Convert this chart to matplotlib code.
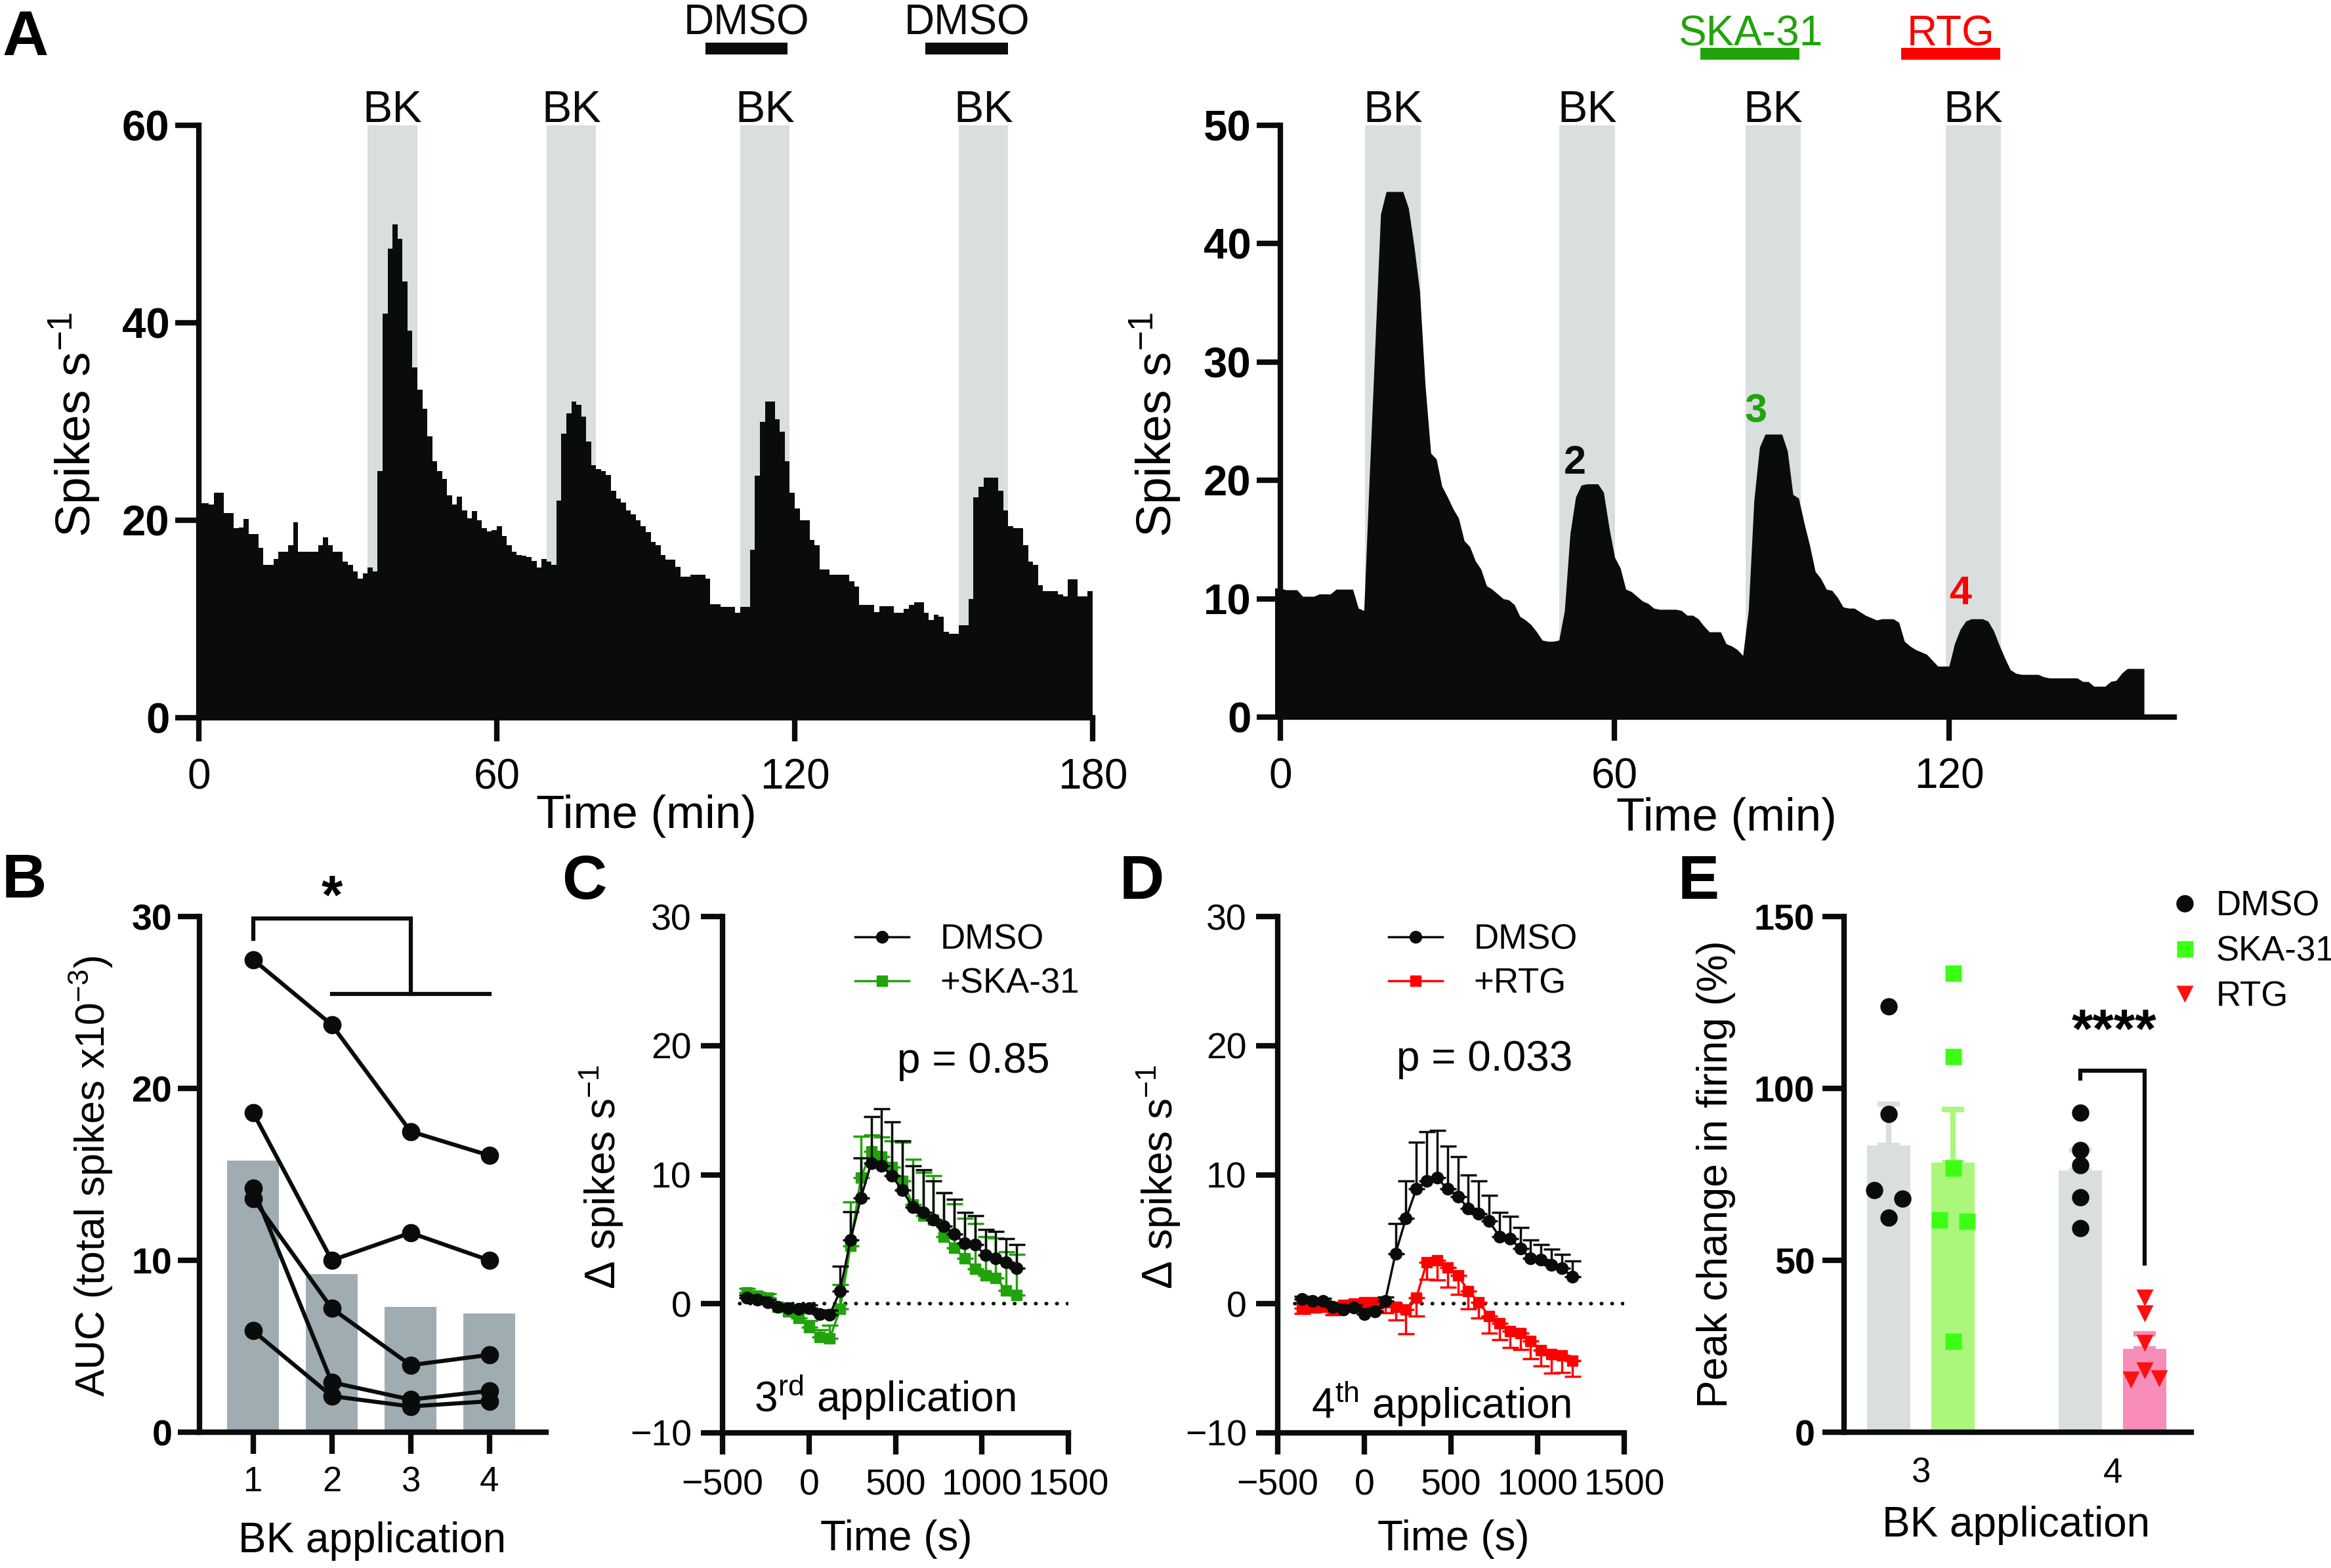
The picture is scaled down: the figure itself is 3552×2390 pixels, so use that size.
import numpy as np
import matplotlib
matplotlib.use('Agg')
import matplotlib.pyplot as plt
from matplotlib import font_manager
from matplotlib.lines import Line2D

# ---------------- fonts ----------------
_names = {f.name for f in font_manager.fontManager.ttflist}
SANS = 'Liberation Sans' if 'Liberation Sans' in _names else 'DejaVu Sans'
NARROW = 'Liberation Sans Narrow' if 'Liberation Sans Narrow' in _names else SANS
plt.rcParams['font.family'] = [SANS, 'DejaVu Sans']
plt.rcParams['mathtext.fontset'] = 'custom'
plt.rcParams['mathtext.rm'] = SANS
plt.rcParams['mathtext.default'] = 'regular'

# ---------------- data ----------------
# panel A left: firing rate, 1-min bins from 0 to 180 min
rate_left = [
    21.7, 21.7, 21.6, 22.8, 22.8, 20.7, 20.7, 19.2, 19.3, 20.1,
    18.6, 18.6, 17.2, 15.5, 15.5, 16.1, 16.8, 16.8, 17.5, 19.8,
    16.8, 16.8, 16.8, 16.8, 17.5, 18.3, 17.5, 16.8, 16.8, 15.8,
    15.5, 14.8, 14.1, 14.6, 15.2, 14.8, 25.0, 40.9, 47.5, 50.0,
    48.5, 44.2, 39.2, 35.5, 33.2, 31.3, 28.5, 26.0, 25.0, 24.2,
    22.5, 21.6, 22.4, 21.0, 20.2, 20.9, 20.0, 19.2, 18.9, 19.0,
    19.4, 18.4, 17.5, 16.8, 16.5, 16.4, 16.3, 15.9, 15.2, 16.1,
    15.8, 15.5, 22.0, 28.8, 30.8, 32.0, 31.7, 30.5, 28.0, 25.6,
    25.2, 25.0, 24.6, 23.0, 22.2, 21.8, 21.0, 20.6, 20.0, 19.4,
    18.8, 17.8, 17.5, 16.5, 16.0, 16.0, 15.3, 14.3, 14.3, 14.5,
    14.5, 14.5, 14.1, 11.5, 11.5, 11.2, 11.2, 11.2, 10.6, 11.2,
    11.2, 17.0, 24.5, 30.0, 32.0, 32.0, 30.2, 29.0, 26.0, 22.8,
    21.2, 20.0, 20.0, 18.0, 17.5, 15.0, 15.0, 14.5, 14.5, 14.5,
    14.5, 13.8, 13.3, 11.4, 11.4, 11.4, 10.7, 11.3, 11.3, 11.3,
    10.6, 10.6, 11.0, 11.4, 11.7, 11.7, 10.6, 9.9, 10.4, 10.2,
    8.7, 8.5, 8.5, 9.4, 9.4, 12.0, 22.3, 23.4, 24.3, 24.3,
    24.3, 23.0, 21.0, 19.4, 19.2, 19.2, 17.5, 15.8, 15.5, 13.4,
    12.8, 12.8, 12.8, 12.5, 12.3, 14.0, 14.0, 12.3, 12.3, 12.8,
]
# panel A right: firing rate sampled each minute from -1 to 155 min
rate_right = [
    10.9,
    10.9, 10.75, 10.75, 10.75, 10.2, 10.2, 10.2, 10.4, 10.4, 10.4,
    10.8, 10.8, 10.8, 10.8, 9.2, 9.0, 20.5, 31.5, 42.5, 44.4,
    44.4, 44.4, 44.4, 43.0, 39.8, 36.0, 28.0, 22.3, 21.8, 19.5,
    18.6, 17.6, 16.8, 14.9, 14.4, 13.2, 12.5, 11.1, 10.8, 10.4,
    10.0, 9.9, 9.5, 8.5, 8.2, 7.8, 7.2, 6.5, 6.4, 6.4,
    6.5, 9.0, 15.5, 18.6, 19.6, 19.7, 19.7, 19.7, 19.0, 16.0,
    13.5, 12.6, 10.8, 10.6, 10.2, 9.8, 9.6, 9.2, 9.1, 9.1,
    9.1, 9.1, 9.0, 8.6, 8.6, 8.3, 7.7, 7.2, 7.2, 7.2,
    6.2, 6.0, 5.7, 5.2, 9.0, 18.3, 22.8, 23.9, 23.9, 23.9,
    23.9, 22.5, 18.8, 18.5, 16.4, 14.5, 12.3, 11.7, 10.8, 10.7,
    10.1, 9.3, 9.2, 9.2, 8.9, 8.6, 8.4, 8.2, 8.3, 8.3,
    8.3, 8.0, 6.4, 6.0, 5.7, 5.5, 5.3, 4.8, 4.3, 4.3,
    4.3, 6.2, 7.4, 8.1, 8.3, 8.3, 8.3, 8.1, 7.3, 6.1,
    5.0, 4.0, 3.7, 3.6, 3.6, 3.6, 3.6, 3.4, 3.3, 3.3,
    3.3, 3.3, 3.3, 3.3, 3.0, 3.0, 2.6, 2.6, 2.6, 3.0,
    3.1, 3.7, 4.1, 4.1, 4.1, 4.1,
]
bk_left = [(34, 44), (70, 80), (109, 119), (153, 163)]
dmso_left = [(102, 118.5), (146.3, 163)]
bk_right = [(15.2, 25.2), (50.1, 60.1), (83.5, 93.4), (119.4, 129.3)]
ska_right = (75.4, 93.2)
rtg_right = (111.4, 129.2)

# panel B: AUC per BK application
bk_apps = [1, 2, 3, 4]
auc_mean = [15.8, 9.2, 7.3, 6.9]
auc_cells = [
    [27.5, 23.7, 17.5, 16.1],
    [18.6, 10.0, 11.6, 10.0],
    [14.2, 2.9, 1.9, 2.4],
    [13.6, 7.2, 3.9, 4.5],
    [5.9, 2.1, 1.5, 1.8],
]

# panels C and D: time course (s)
t_s = [-360, -300, -240, -180, -120, -60, 0, 60, 120, 180, 240, 300, 360, 420,
       480, 540, 600, 660, 720, 780, 840, 900, 960, 1020, 1080, 1140, 1200]
c_dmso = [0.46, 0.3, 0.1, -0.25, -0.35, -0.4, -0.35, -0.8, -0.85, 1.0, 4.95, 8.2, 10.9,
          10.7, 9.9, 8.8, 7.5, 7.1, 6.5, 6.0, 5.4, 4.7, 4.6, 3.75, 3.5, 3.2, 2.75]
c_dmso_sem = [0.2, 0.2, 0.2, 0.2, 0.2, 0.2, 0.25, 0.3, 0.35, 1.9, 2.2, 3.1, 3.6, 4.4,
              4.2, 3.8, 3.2, 3.3, 3.0, 2.6, 2.7, 2.4, 2.2, 2.0, 2.1, 1.85, 1.85]
c_ska = [0.9, 0.6, 0.45, -0.25, -0.6, -1.1, -1.8, -2.6, -2.7, -0.4, 4.5, 9.75, 11.8,
         11.4, 10.6, 9.5, 7.7, 6.8, 6.5, 5.2, 4.35, 3.5, 2.7, 2.2, 2.0, 1.05, 0.65]
c_ska_sem = [0.3, 0.3, 0.3, 0.3, 0.3, 0.4, 0.5, 0.6, 1.05, 1.9, 3.4, 3.2, 1.3, 1.5,
             2.0, 3.0, 3.5, 3.4, 3.4, 3.4, 3.4, 3.1, 3.5, 3.0, 3.1, 3.0, 3.2]
d_dmso = [0.35, 0.2, 0.2, -0.25, -0.45, -0.3, -0.8, -0.6, 0.2, 3.9, 6.6, 8.9, 9.5,
          9.75, 8.9, 8.3, 7.4, 7.0, 6.4, 5.2, 5.05, 4.3, 3.5, 3.4, 3.0, 2.75, 2.1]
d_dmso_sem = [0.2, 0.2, 0.2, 0.2, 0.2, 0.2, 0.3, 0.3, 0.3, 2.3, 2.9, 3.6, 3.85, 3.7,
              3.3, 3.1, 2.6, 2.5, 2.0, 1.9, 1.7, 1.6, 1.45, 1.2, 1.25, 1.05, 1.2]
d_rtg = [-0.35, -0.25, -0.2, -0.35, -0.1, 0.0, 0.1, 0.1, 0.1, -0.25, -0.45, 0.45, 3.2,
         3.35, 2.8, 2.2, 1.0, 0.1, -0.95, -1.5, -2.1, -2.25, -2.9, -3.6, -3.9, -4.0, -4.4]
d_rtg_sem = [0.4, 0.4, 0.4, 0.5, 0.5, 0.5, 0.5, 0.6, 0.8, 1.0, 1.9, 1.4, 1.3, 1.5,
             1.5, 1.5, 1.4, 1.2, 1.3, 1.3, 1.3, 1.3, 1.35, 1.2, 1.5, 1.3, 1.25]

# panel E: peak change in firing (%)
e_groups = ['3', '4']
e_names = ['DMSO', 'SKA-31', 'DMSO', 'RTG']
e_mean = [83.4, 78.4, 76.1, 24.2]
e_sem = [12.0, 15.5, 6.0, 4.4]
e_points = [
    [123.9, 92.6, 70.4, 68.0, 62.4],
    [133.5, 109.3, 77.0, 61.8, 61.5, 26.6],
    [93.0, 82.1, 77.7, 68.4, 59.4],
    [39.2, 34.5, 25.9, 17.9, 15.3, 15.7],
]
e_jitter = [
    [0, 0, -0.074, 0.074, 0],
    [0, 0, 0, -0.071, 0.071, 0],
    [0, 0, 0, 0, 0],
    [0, 0, 0, 0, -0.074, 0.076],
]

# ---------------- style ----------------
W, H = 3552, 2390
BLACK = '#0a0c0b'
SHADE = '#d9dfdf'
GREEN = '#22a30c'
RED = '#ff0000'
SPW = 6.0
TICKL = 24

fig = plt.figure(figsize=(W / 100, H / 100), dpi=100)


def px_axes(x0, y0, x1, y1):
    return fig.add_axes([x0 / W, 1 - y1 / H, (x1 - x0) / W, (y1 - y0) / H])


def base_style(ax):
    for s in ['top', 'right']:
        ax.spines[s].set_visible(False)
    for s in ['left', 'bottom']:
        ax.spines[s].set_linewidth(SPW)
        ax.spines[s].set_color(BLACK)
        ax.spines[s].set_capstyle('projecting')
    ax.tick_params(width=SPW, length=TICKL, color=BLACK, direction='out')
    ax.set_facecolor('none')


def ftext(x, y, s, **kw):
    fig.text(x / W, 1 - y / H, s, **kw)


# ---------------- panel A ----------------
axA1 = px_axes(303, 191, 1665, 1094)
axA2 = px_axes(1951, 191, 3313, 1093)

for ax, spans in [(axA1, bk_left), (axA2, bk_right)]:
    for a, b in spans:
        ax.axvspan(a, b, color=SHADE, lw=0, zorder=0)
        ax.text((a + b) / 2, 1.006, 'BK', transform=ax.get_xaxis_transform(),
                ha='center', va='baseline', fontsize=49, family=NARROW, color=BLACK)

axA1.stairs(rate_left, np.arange(0, len(rate_left) + 1), fill=True, color=BLACK,
            lw=0, zorder=2)
axA1.set_xlim(0, 180)
axA1.set_ylim(0, 60)
axA1.set_xticks([0, 60, 120, 180])
axA1.set_yticks([0, 20, 40, 60])

t_right = np.arange(-1, len(rate_right) - 1)
axA2.fill_between(t_right, rate_right, 0, color=BLACK, lw=0, zorder=2, clip_on=False)
axA2.set_xlim(0, 160.4)
axA2.set_ylim(0, 50)
axA2.set_xticks([0, 60, 120])
axA2.set_yticks([0, 10, 20, 30, 40, 50])

for ax in [axA1, axA2]:
    base_style(ax)
    ax.tick_params(axis='y', pad=6, length=26)
    ax.tick_params(axis='x', pad=18, length=26)
    for lab in ax.get_yticklabels():
        lab.set_fontfamily(NARROW)
        lab.set_fontweight('bold')
        lab.set_fontsize(47)
    for lab in ax.get_xticklabels():
        lab.set_fontfamily(NARROW)
        lab.set_fontsize(46)

# drug bars above panel A
for a, b in dmso_left:
    axA1.plot([a, b], [1.1296, 1.1296], transform=axA1.get_xaxis_transform(),
              color=BLACK, lw=13, solid_capstyle='butt', clip_on=False)
    axA1.text((a + b) / 2, 1.153, 'DMSO', transform=axA1.get_xaxis_transform(),
              ha='center', va='baseline', fontsize=46, family=NARROW, color=BLACK)
for (a, b), name, col in [(ska_right, 'SKA-31', GREEN), (rtg_right, 'RTG', RED)]:
    axA2.plot([a, b], [1.121, 1.121], transform=axA2.get_xaxis_transform(),
              color=col, lw=13, solid_capstyle='butt', clip_on=False)
    axA2.text((a + b) / 2, 1.135, name, transform=axA2.get_xaxis_transform(),
              ha='center', va='baseline', fontsize=46, family=NARROW, color=col)

# peak numbers
for tx, ty, s, col in [(52.9, 21.4, '2', BLACK), (85.3, 25.8, '3', GREEN), (122.0, 10.4, '4', RED)]:
    axA2.text(tx, ty, s, ha='center', va='center', fontsize=44, family=NARROW,
              fontweight='bold', color=col, zorder=5)

ftext(114, 647, 'Spikes s$^{-1}$', rotation=90, ha='center', va='center', fontsize=54)
ftext(1761, 647, 'Spikes s$^{-1}$', rotation=90, ha='center', va='center', fontsize=54)
ftext(985, 1244, 'Time (min)', ha='center', va='center', fontsize=51)
ftext(2631, 1248, 'Time (min)', ha='center', va='center', fontsize=51)

# ---------------- panel B ----------------
axB = px_axes(304, 1397, 832, 2183)
axB.bar(bk_apps, auc_mean, width=0.66, color='#9fadb2', lw=0, zorder=1)
for cell in auc_cells:
    axB.plot(bk_apps, cell, '-o', color=BLACK, ms=19, lw=4.5, zorder=3, clip_on=False)
axB.plot([1, 1, 3, 3], [28.7, 29.9, 29.9, 25.5], color=BLACK, lw=4.5,
         solid_joinstyle='miter', clip_on=False)
axB.plot([2, 4], [25.5, 25.5], color=BLACK, lw=4.5, clip_on=False)
axB.text(2, 31.0, '*', ha='center', va='center', fontsize=60, fontweight='bold')
axB.set_xlim(0.32, 4.72)
axB.set_ylim(0, 30)
axB.set_xticks(bk_apps)
axB.set_yticks([0, 10, 20, 30])
base_style(axB)
axB.tick_params(axis='y', labelsize=40, pad=6)
axB.tick_params(axis='x', labelsize=38, pad=13)
for lab in axB.get_yticklabels():
    lab.set_fontweight('bold')
ftext(139, 1793, 'AUC (total spikes x10$^{-3}$)', rotation=90, ha='center', va='center', fontsize=45)
ftext(567, 2349, 'BK application', ha='center', va='center', fontsize=46)

# ---------------- panels C and D ----------------
axC = px_axes(1101, 1397, 1628, 2184)
axD = px_axes(1947, 1397, 2475, 2184)
zeros = [0] * len(t_s)

axC.errorbar(t_s, c_ska, yerr=[zeros, c_ska_sem], color=GREEN, marker='s', ms=12, lw=2.5,
             elinewidth=2.5, capsize=9, capthick=2.5, zorder=3)
axC.errorbar(t_s, c_dmso, yerr=[zeros, c_dmso_sem], color=BLACK, marker='o', ms=13, lw=2.5,
             elinewidth=2.5, capsize=9, capthick=2.5, zorder=4)
axD.errorbar(t_s, d_rtg, yerr=[d_rtg_sem, zeros], color=RED, marker='s', ms=12, lw=2.5,
             elinewidth=2.5, capsize=9, capthick=2.5, zorder=3)
axD.errorbar(t_s, d_dmso, yerr=[zeros, d_dmso_sem], color=BLACK, marker='o', ms=13, lw=2.5,
             elinewidth=2.5, capsize=9, capthick=2.5, zorder=4)

for ax, col, lab2, xl in [(axC, GREEN, '+SKA-31', 0.383), (axD, RED, '+RTG', 0.32)]:
    ax.hlines(0, -400, 1500, colors=BLACK, lw=4, linestyles=(0, (0.1, 2.8)), zorder=1,
              capstyle='round')
    ax.set_xlim(-500, 1500)
    ax.set_ylim(-10, 30)
    ax.set_xticks([-500, 0, 500, 1000, 1500])
    ax.set_yticks([-10, 0, 10, 20, 30])
    base_style(ax)
    ax.tick_params(labelsize=40)
    ax.tick_params(axis='y', pad=10)
    ax.tick_params(axis='x', pad=15)
    handles = [Line2D([], [], color=BLACK, marker='o', ms=13, lw=2.5),
               Line2D([], [], color=col, marker='s', ms=12, lw=2.5)]
    ax.legend(handles, ['DMSO', lab2], loc='upper left', bbox_to_anchor=(xl, 0.987),
              frameon=False, fontsize=38, borderpad=0, borderaxespad=0,
              handlelength=1.55, handletextpad=0.9, labelspacing=0.32)

ftext(917, 1794, 'Δ spikes s$^{-1}$', rotation=90, ha='center', va='center', fontsize=46)
ftext(1766, 1794, 'Δ spikes s$^{-1}$', rotation=90, ha='center', va='center', fontsize=46)
ftext(1366, 2346, 'Time (s)', ha='center', va='center', fontsize=46)
ftext(2215, 2346, 'Time (s)', ha='center', va='center', fontsize=46)
ftext(1483, 1618, 'p = 0.85', ha='center', va='center', fontsize=46)
ftext(2262, 1615, 'p = 0.033', ha='center', va='center', fontsize=46)
ftext(1348, 2152, '3$^{rd}$ application', ha='center', va='baseline', fontsize=46)
ftext(2196, 2162, '4$^{th}$ application', ha='center', va='baseline', fontsize=46)

# ---------------- panel E ----------------
axE = px_axes(2810, 1397, 3339, 2183)
e_x = [-0.168, 0.168, 0.832, 1.168]
bar_cols = ['#d9dedf', '#aaf77c', '#d9dedf', '#f78db8']
pt_cols = [BLACK, '#3cff14', BLACK, '#ff1010']
pt_marks = ['o', 's', 'o', 'v']
for i in range(4):
    axE.bar(e_x[i], e_mean[i], width=0.226, color=bar_cols[i], lw=0, zorder=1)
    axE.errorbar(e_x[i], e_mean[i], yerr=[[0], [e_sem[i]]], fmt='none', ecolor=bar_cols[i],
                 elinewidth=6, capsize=12, capthick=6, zorder=1)
    xs = [e_x[i] + j for j in e_jitter[i]]
    axE.plot(xs, e_points[i], linestyle='none', marker=pt_marks[i], ms=19 if pt_marks[i] != 's' else 18,
             color=pt_cols[i], mec='none', zorder=3, clip_on=False)
axE.plot([0.832, 0.832, 1.168, 1.168], [102.8, 105.2, 105.2, 49.0], color=BLACK, lw=4.5,
         solid_joinstyle='miter')
axE.text(1.007, 116.0, '****', ha='center', va='center', fontsize=60, fontweight='bold')
axE.set_xlim(-0.40, 1.41)
axE.set_ylim(0, 150)
axE.set_xticks([0, 1])
axE.set_xticklabels(e_groups)
axE.set_yticks([0, 50, 100, 150])
base_style(axE)
axE.tick_params(axis='y', labelsize=40, pad=8)
axE.tick_params(axis='x', labelsize=38, pad=27, length=0)
for lab in axE.get_yticklabels():
    lab.set_fontweight('bold')
e_handles = [Line2D([], [], linestyle='none', marker='o', ms=19, color=BLACK, mec='none'),
             Line2D([], [], linestyle='none', marker='s', ms=18, color='#3cff14', mec='none'),
             Line2D([], [], linestyle='none', marker='v', ms=19, color='#ff1010', mec='none')]
axE.legend(e_handles, ['DMSO', 'SKA-31', 'RTG'], loc='upper left', bbox_to_anchor=(0.941, 1.051),
           frameon=False, fontsize=38, borderpad=0, borderaxespad=0, handlelength=0.8,
           handletextpad=0.5, labelspacing=0.36)
ftext(2615, 1790, 'Peak change in firing (%)', rotation=90, ha='center', va='center', fontsize=46)
ftext(3072, 2325, 'BK application', ha='center', va='center', fontsize=46)

# ---------------- panel letters ----------------
ftext(4, 84, 'A', fontsize=70, family=NARROW, fontweight='bold', va='baseline')
ftext(3, 1368, 'B', fontsize=68, fontweight='bold', va='baseline')
ftext(856, 1370, 'C', fontsize=68, fontweight='bold', va='baseline')
ftext(1706, 1370, 'D', fontsize=68, fontweight='bold', va='baseline')
ftext(2557, 1370, 'E', fontsize=68, fontweight='bold', va='baseline')

fig.savefig('out.png', dpi=100, facecolor='white')
